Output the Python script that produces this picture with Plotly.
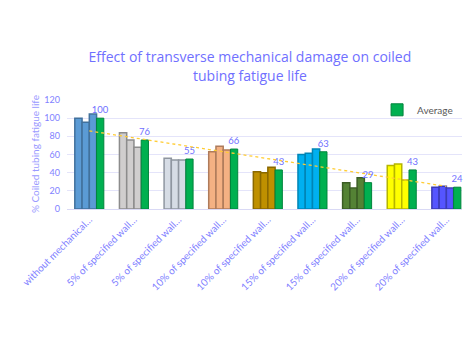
import numpy as np
import plotly.graph_objects as go

categories = [
    "without mechanical…",
    "5% of specified wall…",
    "5% of specified wall…",
    "10% of specified wall…",
    "10% of specified wall…",
    "15% of specified wall…",
    "15% of specified wall…",
    "20% of specified wall…",
    "20% of specified wall…",
]
sample_1 = [100, 84, 56, 63, 41, 60, 29, 48, 24]
sample_2 = [95.5, 76, 54, 69, 40, 61.5, 23, 49.5, 25]
sample_3 = [104.5, 68, 54, 65, 46, 66, 34.5, 32, 23]
average = [100, 76, 55, 66, 43, 63, 29, 43, 24]

group_fill = ["#5b9bd5", "#d0cece", "#d6dce5", "#f4b183", "#bf9000",
              "#00b0f0", "#548235", "#ffff00", "#5555ff"]
group_line = ["#41719c", "#8c8c8c", "#8f96a0", "#ae7b5b", "#8a6800",
              "#0085b5", "#3b5c25", "#b5b500", "#3b3bb5"]
avg_fill = "#00b050"
avg_line = "#00843c"

x = np.arange(len(categories))
fig = go.Figure()
for vals in (sample_1, sample_2, sample_3):
    fig.add_trace(go.Bar(
        x=x, y=vals, showlegend=False, hoverinfo="y",
        marker=dict(color=group_fill, line=dict(color=group_line, width=1.5)),
    ))
fig.add_trace(go.Bar(
    x=x, y=average, name="Average",
    marker=dict(color=avg_fill, line=dict(color=avg_line, width=1)),
    text=[str(int(v)) for v in average], textposition="outside",
    constraintext="none",
    textfont=dict(color="#7070ff", size=9.5, family="Lato"),
    cliponaxis=False,
))

# linear trendline of the averages
k, b = np.polyfit(x, average, 1)
fig.add_trace(go.Scatter(
    x=[x[0], x[-1]], y=[k * x[0] + b, k * x[-1] + b], mode="lines",
    line=dict(color="#ffcc33", width=1.3, dash="dot"), showlegend=False,
))

fig.update_layout(
    width=468, height=337,
    margin=dict(l=67, r=6, t=100, b=128),
    paper_bgcolor="white", plot_bgcolor="white",
    barmode="group", bargap=0.35, bargroupgap=0,
    font=dict(family="Lato", color="#7f7fff"),
    title=dict(
        text="Effect of transverse mechanical damage on coiled<br>tubing fatigue life",
        font=dict(size=14, color="#7070ff", family="Open Sans"),
        x=0.534, xref="container", xanchor="center",
        y=0.815, yref="container", yanchor="middle",
    ),
    legend=dict(
        x=0.785, y=0.91, xanchor="left", yanchor="middle",
        font=dict(size=10, color="#595959", family="Lato"),
        bgcolor="rgba(0,0,0,0)",
    ),
    xaxis=dict(
        tickmode="array", tickvals=x, ticktext=categories,
        tickangle=-45, range=[-0.5, 8.35],
        tickfont=dict(size=10, color="#7f7fff"),
        showgrid=False, showline=True, linecolor="#d9d9f5", linewidth=1,
        ticks="",
    ),
    yaxis=dict(
        range=[0, 120], dtick=20,
        gridcolor="#e4e4fa", gridwidth=1,
        zeroline=False,
        tickfont=dict(size=9, color="#7f7fff"),
        ticklabelstandoff=6,
    ),
    annotations=[dict(
        text="% Coiled tubing fatigue life", textangle=-90,
        xref="paper", yref="paper", x=-0.082, y=0.5,
        xanchor="center", yanchor="middle", showarrow=False,
        font=dict(size=10, color="#9a9aff", family="Lato"),
    )],
)

fig.write_html("out.html")
